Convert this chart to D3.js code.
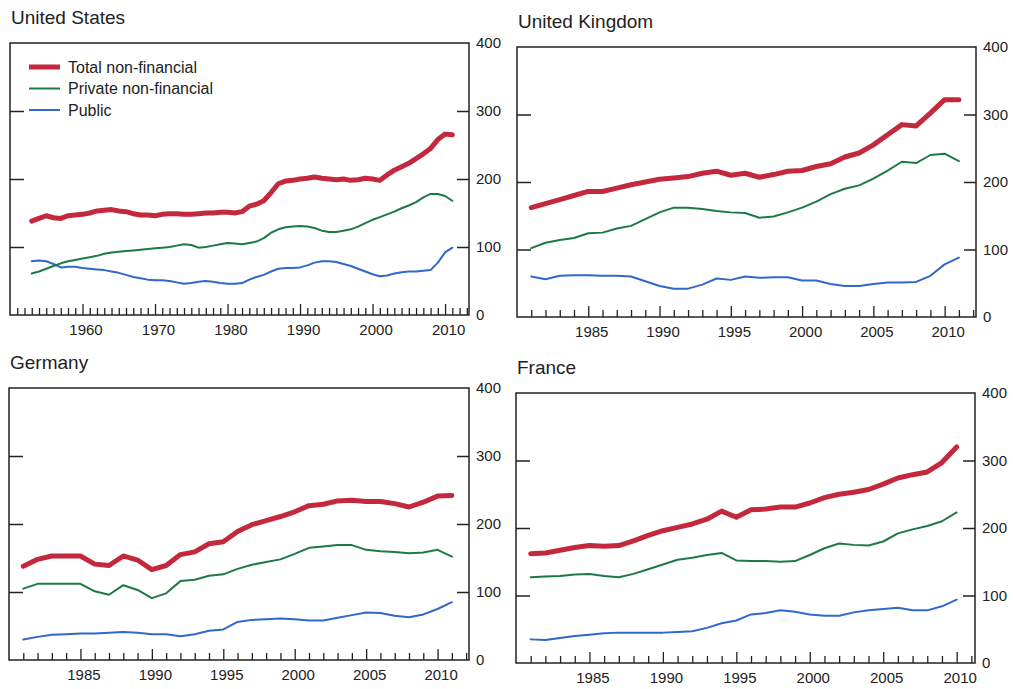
<script src="https://d3js.org/d3.v7.min.js"></script>
<style>
  body { margin: 0; background: #fff; }
  * { font-family: 'Liberation Sans', Arial, sans-serif; }
</style>
<div id="chart"></div>
<script>

// series names + colours
var seriesNames = ["Total non-financial", "Private non-financial", "Public"];
var seriesColors = ["#c4283c", "#1d7a47", "#3068cc"];
var seriesWidths = [5, 2, 2];

// United States, 1953-2011
var usYears = d3.range(1953, 2012);
var usTotal = [138,142,146,143,142,146,147,148,150,153,154,155,153,152,149,147,147,146,148,149,
  149,148,148,149,150,150,151,151,150,152,160,163,168,180,193,197,198,200,201,203,
  201,200,199,200,198,199,201,200,198,206,213,218,223,230,237,245,258,266,265];
var usPrivate = [61,64,68,72,76,79,81,83,85,87,90,92,93,94,95,96,97,98,99,100,
  102,104,103,99,100,102,104,106,105,104,106,108,113,121,126,129,130,131,130,128,
  124,122,122,124,126,130,135,140,144,148,152,157,161,166,173,178,178,175,168];
var usPublic = [79,80,79,75,70,71,71,69,68,67,66,64,62,59,56,54,52,51,51,50,
  48,46,47,49,50,49,47,46,46,47,52,56,59,64,68,69,69,70,73,77,
  79,79,78,75,72,68,64,60,57,58,61,63,64,64,65,66,77,92,99];

// United Kingdom, 1981-2011
var ukYears = d3.range(1981, 2012);
var ukTotal = [162,168,174,180,186,186,191,196,200,204,206,208,213,216,210,213,207,211,216,217,
  223,227,237,243,255,270,285,283,302,322,322];
var ukPrivate = [102,110,114,117,124,125,131,135,145,155,162,162,160,157,155,154,147,149,155,162,
  171,182,190,195,205,217,230,228,240,242,231];
var ukPublic = [60,56,61,62,62,61,61,60,53,46,42,42,48,57,55,60,58,59,59,54,
  54,49,46,46,49,51,51,52,61,78,88];

// Germany, 1981-2011
var deYears = d3.range(1981, 2012);
var deTotal = [138,148,153,153,153,141,139,153,147,133,139,155,159,171,174,189,199,205,211,218,
  227,229,234,235,233,233,230,225,232,241,242];
var dePrivate = [105,112,112,112,112,101,96,110,103,91,98,116,118,124,126,134,140,144,148,156,
  165,167,169,169,162,160,159,157,158,162,152];
var dePublic = [30,34,37,38,39,39,40,41,40,38,38,35,38,43,45,56,59,60,61,60,
  58,58,62,66,70,69,65,63,67,75,85];

// France, 1981-2010
var frYears = d3.range(1981, 2011);
var frTotal = [162,163,167,171,174,173,174,181,189,196,201,206,213,225,216,227,228,231,231,237,
  245,250,253,257,265,274,279,283,297,320];
var frPrivate = [127,128,129,131,132,129,127,132,139,146,153,156,160,163,152,151,151,150,151,160,
  170,177,175,174,180,192,198,203,210,223];
var frPublic = [35,34,37,40,42,44,45,45,45,45,46,47,52,59,63,72,74,78,76,72,
  70,70,75,78,80,82,78,78,84,94];

var yTicks = [0, 100, 200, 300, 400];

var panels = [
  { title: "United States", years: usYears, series: [usTotal, usPrivate, usPublic],
    box: [10, 43, 469, 315], domain: [1950, 2013.3], major: 10, legend: true },
  { title: "United Kingdom", years: ukYears, series: [ukTotal, ukPrivate, ukPublic],
    box: [517, 47, 976, 317], domain: [1980, 2012.2], major: 5 },
  { title: "Germany", years: deYears, series: [deTotal, dePrivate, dePublic],
    box: [9, 388, 469, 660], domain: [1980, 2012.2], major: 5 },
  { title: "France", years: frYears, series: [frTotal, frPrivate, frPublic],
    box: [516, 393, 975, 663], domain: [1980, 2011.25], major: 5 }
];

var svg = d3.select("#chart").append("svg")
  .attr("width", 1013)
  .attr("height", 689);

var axisColor = "#222";

panels.forEach(function (p) {
  var x0 = p.box[0], y0 = p.box[1], x1 = p.box[2], y1 = p.box[3];
  var g = svg.append("g");

  var x = d3.scaleLinear().domain(p.domain).range([x0, x1]);
  var y = d3.scaleLinear().domain([0, 400]).range([y1, y0]);

  // title
  g.append("text")
    .attr("x", x0 + 1)
    .attr("y", y0 - 19)
    .style("font-size", "19px")
    .style("fill", "#222")
    .text(p.title);

  // frame
  g.append("rect")
    .attr("x", x0).attr("y", y0)
    .attr("width", x1 - x0).attr("height", y1 - y0)
    .attr("fill", "none")
    .attr("stroke", axisColor)
    .attr("stroke-width", 1.5);

  // right axis (labels outside, ticks inside)
  var yr = g.append("g")
    .attr("transform", "translate(" + x1 + ",0)")
    .call(d3.axisRight(y).tickValues(yTicks).tickSize(-12).tickPadding(7));
  yr.select(".domain").remove();
  yr.selectAll("line").attr("stroke", axisColor).attr("stroke-width", 1.5);
  yr.selectAll("text").style("font-size", "15px").attr("fill", "#222");
  yr.selectAll(".tick").filter(function (d) { return d === 0 || d === 400; }).select("line").remove();

  // left ticks, inside
  var yl = g.append("g")
    .attr("transform", "translate(" + x0 + ",0)")
    .call(d3.axisLeft(y).tickValues([100, 200, 300]).tickSize(-14).tickFormat(""));
  yl.select(".domain").remove();
  yl.selectAll("line").attr("stroke", axisColor).attr("stroke-width", 1.5);

  // bottom: yearly minor ticks, longer majors
  var allYears = d3.range(Math.ceil(p.domain[0]) + 1, Math.floor(p.domain[1]) + 1);
  var majors = allYears.filter(function (d) { return d % p.major === 0; });

  var xb = g.append("g")
    .attr("transform", "translate(0," + y1 + ")")
    .call(d3.axisBottom(x).tickValues(allYears).tickSize(-7).tickFormat(""));
  xb.select(".domain").remove();
  xb.selectAll("line").attr("stroke", axisColor).attr("stroke-width", 1.3);
  xb.selectAll(".tick").filter(function (d) { return d % p.major === 0; })
    .select("line").attr("y2", -11);

  var xl = g.append("g")
    .attr("transform", "translate(0," + y1 + ")")
    .call(d3.axisBottom(x).tickValues(majors).tickSize(0).tickPadding(9).tickFormat(d3.format("d")));
  xl.select(".domain").remove();
  xl.selectAll("text").style("font-size", "15px").attr("fill", "#222").attr("dx", "3");

  // lines
  var line = d3.line()
    .x(function (d, i) { return x(p.years[i]); })
    .y(function (d) { return y(d); });

  [2, 1, 0].forEach(function (k) {
    g.append("path")
      .datum(p.series[k])
      .attr("fill", "none")
      .attr("stroke", seriesColors[k])
      .attr("stroke-width", seriesWidths[k])
      .attr("stroke-linejoin", "round")
      .attr("stroke-linecap", "round")
      .attr("d", line);
  });

  // legend
  if (p.legend) {
    var lg = g.append("g");
    seriesNames.forEach(function (name, i) {
      var ly = 67 + i * 21.5;
      lg.append("line")
        .attr("x1", 29).attr("x2", 60)
        .attr("y1", ly).attr("y2", ly)
        .attr("stroke", seriesColors[i])
        .attr("stroke-width", seriesWidths[i]);
      lg.append("text")
        .attr("x", 68).attr("y", ly)
        .attr("dy", "0.35em")
        .style("font-size", "16px")
        .style("fill", "#222")
        .text(name);
    });
  }
});

</script>
